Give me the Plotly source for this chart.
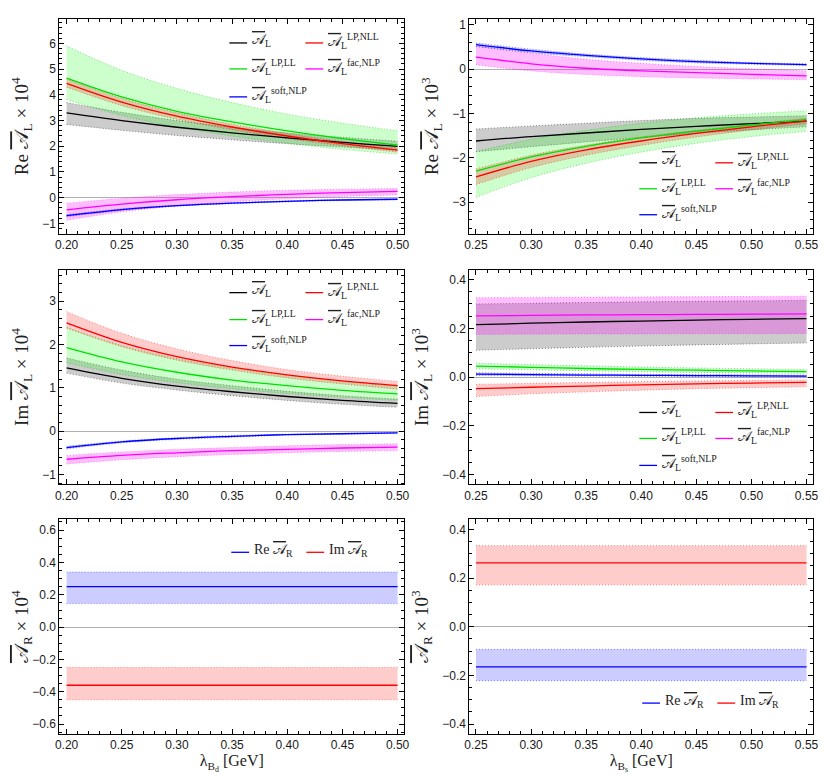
import plotly.graph_objects as go

# ---------------- data ----------------
x_bd = [0.20, 0.25, 0.30, 0.35, 0.40, 0.45, 0.50]
x_bs = [0.25, 0.30, 0.35, 0.40, 0.45, 0.50, 0.55]

# Panel 1: Re A_L (B_d) x 10^4
re_bd_tot = [3.30, 3.00, 2.74, 2.52, 2.33, 2.15, 2.00]
re_bd_tot_hi = [3.70, 3.32, 3.00, 2.74, 2.52, 2.35, 2.20]
re_bd_tot_lo = [2.85, 2.62, 2.42, 2.25, 2.10, 1.97, 1.85]
re_bd_ll = [4.65, 3.92, 3.36, 2.95, 2.60, 2.30, 2.05]
re_bd_ll_hi = [5.90, 4.95, 4.25, 3.70, 3.25, 2.90, 2.60]
re_bd_ll_lo = [3.82, 3.20, 2.75, 2.40, 2.12, 1.88, 1.70]
re_bd_nll = [4.45, 3.72, 3.17, 2.75, 2.40, 2.10, 1.85]
re_bd_nll_hi = [4.62, 3.87, 3.30, 2.86, 2.50, 2.19, 1.94]
re_bd_nll_lo = [4.30, 3.58, 3.05, 2.64, 2.30, 2.02, 1.77]
re_bd_fac = [-0.47, -0.25, -0.08, 0.04, 0.13, 0.20, 0.25]
re_bd_fac_hi = [-0.22, -0.02, 0.12, 0.22, 0.29, 0.33, 0.36]
re_bd_fac_lo = [-0.88, -0.55, -0.32, -0.16, -0.04, 0.05, 0.11]
re_bd_soft = [-0.70, -0.46, -0.31, -0.21, -0.14, -0.09, -0.06]
re_bd_soft_hi = [-0.66, -0.43, -0.29, -0.19, -0.12, -0.07, -0.04]
re_bd_soft_lo = [-0.74, -0.49, -0.33, -0.23, -0.16, -0.11, -0.08]

# Panel 2: Re A_L (B_s) x 10^3
re_bs_tot = [-1.62, -1.52, -1.44, -1.36, -1.29, -1.23, -1.17]
re_bs_tot_hi = [-1.35, -1.28, -1.22, -1.16, -1.11, -1.08, -1.05]
re_bs_tot_lo = [-1.86, -1.75, -1.64, -1.54, -1.45, -1.37, -1.30]
re_bs_ll = [-2.30, -1.98, -1.74, -1.55, -1.40, -1.26, -1.14]
re_bs_ll_hi = [-1.86, -1.58, -1.38, -1.22, -1.10, -1.01, -0.94]
re_bs_ll_lo = [-2.89, -2.45, -2.12, -1.87, -1.67, -1.52, -1.40]
re_bs_nll = [-2.43, -2.08, -1.82, -1.62, -1.45, -1.30, -1.17]
re_bs_nll_hi = [-2.25, -1.94, -1.71, -1.53, -1.38, -1.24, -1.11]
re_bs_nll_lo = [-2.60, -2.22, -1.94, -1.72, -1.53, -1.37, -1.23]
re_bs_fac = [0.27, 0.12, 0.02, -0.04, -0.08, -0.12, -0.15]
re_bs_fac_hi = [0.52, 0.36, 0.22, 0.13, 0.06, 0.01, -0.04]
re_bs_fac_lo = [0.10, -0.04, -0.12, -0.17, -0.20, -0.22, -0.24]
re_bs_soft = [0.55, 0.41, 0.31, 0.23, 0.17, 0.13, 0.10]
re_bs_soft_hi = [0.59, 0.45, 0.34, 0.26, 0.20, 0.15, 0.12]
re_bs_soft_lo = [0.51, 0.37, 0.28, 0.20, 0.14, 0.11, 0.08]

# Panel 3: Im A_L (B_d) x 10^4
im_bd_tot = [1.46, 1.22, 1.04, 0.91, 0.80, 0.71, 0.64]
im_bd_tot_hi = [1.69, 1.41, 1.20, 1.05, 0.92, 0.82, 0.74]
im_bd_tot_lo = [1.34, 1.11, 0.95, 0.82, 0.71, 0.62, 0.55]
im_bd_ll = [1.93, 1.60, 1.36, 1.18, 1.05, 0.94, 0.86]
im_bd_ll_hi = [2.40, 1.98, 1.68, 1.46, 1.29, 1.15, 1.04]
im_bd_ll_lo = [1.58, 1.31, 1.12, 0.98, 0.87, 0.78, 0.71]
im_bd_nll = [2.50, 2.05, 1.72, 1.48, 1.30, 1.16, 1.05]
im_bd_nll_hi = [2.76, 2.26, 1.90, 1.63, 1.42, 1.27, 1.15]
im_bd_nll_lo = [2.38, 1.95, 1.64, 1.41, 1.23, 1.09, 0.97]
im_bd_fac = [-0.65, -0.56, -0.50, -0.45, -0.42, -0.39, -0.37]
im_bd_fac_hi = [-0.56, -0.48, -0.42, -0.38, -0.34, -0.31, -0.29]
im_bd_fac_lo = [-0.76, -0.66, -0.59, -0.54, -0.50, -0.47, -0.45]
im_bd_soft = [-0.38, -0.25, -0.17, -0.12, -0.08, -0.06, -0.04]
im_bd_soft_hi = [-0.35, -0.23, -0.15, -0.10, -0.07, -0.05, -0.03]
im_bd_soft_lo = [-0.41, -0.27, -0.19, -0.14, -0.09, -0.07, -0.05]

# Panel 4: Im A_L (B_s) x 10^3
im_bs_tot = [0.215, 0.221, 0.226, 0.230, 0.234, 0.237, 0.240]
im_bs_tot_hi = [0.300, 0.303, 0.306, 0.309, 0.311, 0.313, 0.315]
im_bs_tot_lo = [0.110, 0.116, 0.122, 0.127, 0.132, 0.136, 0.140]
im_bs_ll = [0.045, 0.040, 0.035, 0.031, 0.028, 0.025, 0.022]
im_bs_ll_hi = [0.057, 0.051, 0.046, 0.041, 0.037, 0.034, 0.031]
im_bs_ll_lo = [0.034, 0.030, 0.026, 0.022, 0.019, 0.017, 0.015]
im_bs_nll = [-0.048, -0.042, -0.037, -0.032, -0.028, -0.025, -0.022]
im_bs_nll_hi = [-0.030, -0.026, -0.022, -0.019, -0.016, -0.014, -0.012]
im_bs_nll_lo = [-0.080, -0.069, -0.061, -0.054, -0.048, -0.044, -0.040]
im_bs_fac = [0.251, 0.253, 0.255, 0.256, 0.257, 0.258, 0.259]
im_bs_fac_hi = [0.326, 0.327, 0.328, 0.329, 0.330, 0.331, 0.332]
im_bs_fac_lo = [0.175, 0.176, 0.177, 0.177, 0.178, 0.178, 0.179]
im_bs_soft = [0.012, 0.010, 0.008, 0.007, 0.006, 0.005, 0.004]
im_bs_soft_hi = [0.018, 0.015, 0.013, 0.011, 0.010, 0.009, 0.008]
im_bs_soft_lo = [0.006, 0.005, 0.004, 0.003, 0.002, 0.001, 0.000]

# Panel 5 / 6: A_R
x_bd_r = [0.20, 0.50]
x_bs_r = [0.25, 0.55]
re_ar_bd = [0.25, 0.25]
re_ar_bd_hi = [0.34, 0.34]
re_ar_bd_lo = [0.145, 0.145]
im_ar_bd = [-0.36, -0.36]
im_ar_bd_hi = [-0.25, -0.25]
im_ar_bd_lo = [-0.45, -0.45]
re_ar_bs = [-0.165, -0.165]
re_ar_bs_hi = [-0.093, -0.093]
re_ar_bs_lo = [-0.222, -0.222]
im_ar_bs = [0.262, 0.262]
im_ar_bs_hi = [0.333, 0.333]
im_ar_bs_lo = [0.172, 0.172]

# ---------------- styling ----------------
# The page body has an 8px margin, so the figure is drawn 8px in from the
# window's top-left corner: size it to the remaining area and shift coordinates.
WIN_W, WIN_H = 830, 779
OFF = 8
W, H = WIN_W - OFF, WIN_H - OFF
COL = {
    'k': ('#000000', 'rgba(0,0,0,0.20)', 'rgba(0,0,0,0.45)'),
    'r': ('#ff0000', 'rgba(255,0,0,0.20)', 'rgba(255,0,0,0.45)'),
    'g': ('#00e000', 'rgba(0,255,0,0.20)', 'rgba(0,200,0,0.50)'),
    'm': ('#ff00ff', 'rgba(255,0,255,0.25)', 'rgba(255,0,255,0.45)'),
    'b': ('#0000ff', 'rgba(0,0,255,0.20)', 'rgba(0,0,255,0.45)'),
}
SERIF = 'Liberation Serif, DejaVu Serif, serif'
SANS = 'Liberation Sans, Arial, sans-serif'

fig = go.Figure()


def add_band(n, x, lo, hi, c):
    xa = 'x' if n == 1 else f'x{n}'
    ya = 'y' if n == 1 else f'y{n}'
    line_c, fill_c, edge_c = COL[c]
    fig.add_trace(go.Scatter(x=x, y=lo, mode='lines', xaxis=xa, yaxis=ya,
                             line=dict(color=edge_c, width=1, dash='1px,2px', shape='spline'),
                             showlegend=False, hoverinfo='skip'))
    fig.add_trace(go.Scatter(x=x, y=hi, mode='lines', xaxis=xa, yaxis=ya,
                             fill='tonexty', fillcolor=fill_c,
                             line=dict(color=edge_c, width=1, dash='1px,2px', shape='spline'),
                             showlegend=False, hoverinfo='skip'))


def add_line(n, x, y, c):
    xa = 'x' if n == 1 else f'x{n}'
    ya = 'y' if n == 1 else f'y{n}'
    fig.add_trace(go.Scatter(x=x, y=y, mode='lines', xaxis=xa, yaxis=ya,
                             line=dict(color=COL[c][0], width=1.3, shape='spline'),
                             showlegend=False))


panels = {
    1: (x_bd, [(re_bd_tot, re_bd_tot_lo, re_bd_tot_hi, 'k'), (re_bd_ll, re_bd_ll_lo, re_bd_ll_hi, 'g'),
               (re_bd_nll, re_bd_nll_lo, re_bd_nll_hi, 'r'), (re_bd_fac, re_bd_fac_lo, re_bd_fac_hi, 'm'),
               (re_bd_soft, re_bd_soft_lo, re_bd_soft_hi, 'b')]),
    2: (x_bs, [(re_bs_tot, re_bs_tot_lo, re_bs_tot_hi, 'k'), (re_bs_ll, re_bs_ll_lo, re_bs_ll_hi, 'g'),
               (re_bs_nll, re_bs_nll_lo, re_bs_nll_hi, 'r'), (re_bs_fac, re_bs_fac_lo, re_bs_fac_hi, 'm'),
               (re_bs_soft, re_bs_soft_lo, re_bs_soft_hi, 'b')]),
    3: (x_bd, [(im_bd_tot, im_bd_tot_lo, im_bd_tot_hi, 'k'), (im_bd_ll, im_bd_ll_lo, im_bd_ll_hi, 'g'),
               (im_bd_nll, im_bd_nll_lo, im_bd_nll_hi, 'r'), (im_bd_fac, im_bd_fac_lo, im_bd_fac_hi, 'm'),
               (im_bd_soft, im_bd_soft_lo, im_bd_soft_hi, 'b')]),
    4: (x_bs, [(im_bs_tot, im_bs_tot_lo, im_bs_tot_hi, 'k'), (im_bs_ll, im_bs_ll_lo, im_bs_ll_hi, 'g'),
               (im_bs_nll, im_bs_nll_lo, im_bs_nll_hi, 'r'), (im_bs_fac, im_bs_fac_lo, im_bs_fac_hi, 'm'),
               (im_bs_soft, im_bs_soft_lo, im_bs_soft_hi, 'b')]),
    5: (x_bd_r, [(re_ar_bd, re_ar_bd_lo, re_ar_bd_hi, 'b'), (im_ar_bd, im_ar_bd_lo, im_ar_bd_hi, 'r')]),
    6: (x_bs_r, [(re_ar_bs, re_ar_bs_lo, re_ar_bs_hi, 'b'), (im_ar_bs, im_ar_bs_lo, im_ar_bs_hi, 'r')]),
}

for n, (xv, series) in panels.items():
    for mid, lo, hi, c in series:
        add_band(n, xv, lo, hi, c)
    for mid, lo, hi, c in series:
        add_line(n, xv, mid, c)


# ---------------- axes ----------------
def px_x(p):
    return (p - OFF) / W


def px_y(p):
    return 1 - (p - OFF) / H


col_dom = [[px_x(55), px_x(404)], [px_x(470), px_x(818)]]
row_dom = [[px_y(233), px_y(18)], [px_y(484), px_y(269)], [px_y(734), px_y(519)]]

OL = '<span style="text-decoration:overline">𝒜</span>'
ytitles = {
    1: f'Re {OL}<sub>L</sub> × 10<sup>4</sup>',
    2: f'Re {OL}<sub>L</sub> × 10<sup>3</sup>',
    3: f'Im {OL}<sub>L</sub> × 10<sup>4</sup>',
    4: f'Im {OL}<sub>L</sub> × 10<sup>3</sup>',
    5: f'{OL}<sub>R</sub> × 10<sup>4</sup>',
    6: f'{OL}<sub>R</sub> × 10<sup>3</sup>',
}
yranges = {1: [-1.40, 6.95], 2: [-3.71, 1.13], 3: [-1.23, 3.73], 4: [-0.441, 0.441],
           5: [-0.662, 0.666], 6: [-0.441, 0.441]}
ydt = {1: (1, 0.2, None), 2: (1, 0.2, None), 3: (1, 0.2, None), 4: (0.2, 0.05, '.1f'),
       5: (0.2, 0.05, '.1f'), 6: (0.2, 0.05, '.1f')}

base = dict(showline=True, linecolor='black', linewidth=1, mirror='ticks', ticks='inside',
            ticklen=5, tickwidth=1, tickcolor='black', showgrid=False,
            tickfont=dict(family=SANS, size=12, color='#1a1a1a'))

for n in range(1, 7):
    ci = (n - 1) % 2
    ri = (n - 1) // 2
    xr = [0.1935, 0.5060] if ci == 0 else [0.2440, 0.5560]
    xkey = 'xaxis' if n == 1 else f'xaxis{n}'
    ykey = 'yaxis' if n == 1 else f'yaxis{n}'
    xa = dict(base, domain=col_dom[ci], range=xr, dtick=0.05, tick0=0.2, tickformat='.2f',
              zeroline=False, anchor='y' if n == 1 else f'y{n}',
              minor=dict(ticks='inside', ticklen=3, tickcolor='black', dtick=0.01, showgrid=False))
    if ri == 2:
        xa['title'] = dict(text='λ<sub>B<sub>d</sub></sub> [GeV]' if ci == 0 else 'λ<sub>B<sub>s</sub></sub> [GeV]',
                           font=dict(family=SERIF, size=16, color='#222222'), standoff=3)
    d, md, fmt = ydt[n]
    ya = dict(base, domain=row_dom[ri], range=yranges[n], dtick=d, tick0=0,
              zeroline=True, zerolinecolor='#b0b0b0', zerolinewidth=1,
              anchor='x' if n == 1 else f'x{n}',
              minor=dict(ticks='inside', ticklen=3, tickcolor='black', dtick=md, showgrid=False),
              title=dict(text=ytitles[n], font=dict(family=SERIF, size=19, color='#222222'), standoff=8))
    if fmt:
        ya['tickformat'] = fmt
    fig.layout[xkey] = xa
    fig.layout[ykey] = ya

# ---------------- legends (drawn as keys) ----------------
shapes = []
annos = []


def key(px0, py, c, text):
    shapes.append(dict(type='line', xref='paper', yref='paper', x0=px_x(px0), x1=px_x(px0 + 18),
                       y0=px_y(py), y1=px_y(py), line=dict(color=COL[c][0], width=1.3)))
    annos.append(dict(xref='paper', yref='paper', x=px_x(px0 + 21), y=px_y(py - 2), xanchor='left',
                      yanchor='middle', showarrow=False, text=text,
                      font=dict(family=SERIF, size=14, color='#222222')))


L_TOT = f'{OL}<sub>L</sub>'
L_NLL = f'{OL}<sub>L</sub><sup>LP,NLL</sup>'
L_LL = f'{OL}<sub>L</sub><sup>LP,LL</sup>'
L_FAC = f'{OL}<sub>L</sub><sup>fac,NLP</sup>'
L_SOFT = f'{OL}<sub>L</sub><sup>soft,NLP</sup>'

for (cx1, cx2, y1, y2, y3) in [(227, 304, 42, 68, 96), (642, 719, 162, 188, 214),
                                (227, 304, 292, 319, 345), (642, 719, 412, 438, 465)]:
    key(cx1, y1, 'k', L_TOT)
    key(cx2, y1, 'r', L_NLL)
    key(cx1, y2, 'g', L_LL)
    key(cx2, y2, 'm', L_FAC)
    key(cx1, y3, 'b', L_SOFT)

for (cx1, cx2, yy) in [(229, 305, 552), (645, 721, 703)]:
    key(cx1, yy, 'b', f'Re {OL}<sub>R</sub>')
    key(cx2, yy, 'r', f'Im {OL}<sub>R</sub>')

fig.update_layout(width=W, height=H, margin=dict(l=0, r=0, t=0, b=0),
                  paper_bgcolor='white', plot_bgcolor='white', showlegend=False,
                  shapes=shapes, annotations=annos)

fig.write_html('out.html')
